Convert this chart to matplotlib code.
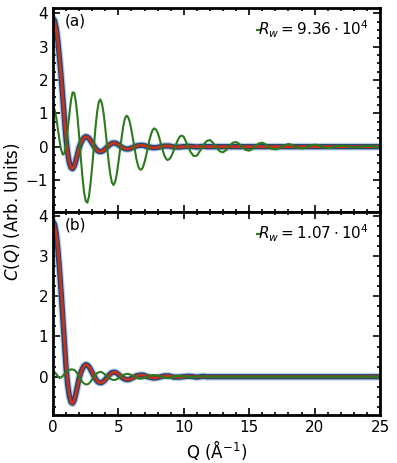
import matplotlib
matplotlib.use("Agg")
import matplotlib.pyplot as plt
from matplotlib.lines import Line2D
from matplotlib.ticker import MultipleLocator, AutoMinorLocator

# ==========================================
# Data
# ==========================================

# fine sampling up to Q = 10, coarser tail to Q = 25
q_fine = [i * 0.125 for i in range(81)]
q_tail = [10.25 + i * 0.25 for i in range(60)]
q = q_fine + q_tail

# measured C(Q), same curve in both panels
c_data = [
    3.85, 3.78, 3.55, 3.15, 2.65, 2.08, 1.45, 0.82,
    0.22, -0.20, -0.48, -0.63, -0.66, -0.58, -0.42, -0.22,
    -0.03, 0.10, 0.20, 0.27, 0.30, 0.29, 0.25, 0.18,
    0.10, 0.02, -0.05, -0.11, -0.14, -0.15, -0.14, -0.11,
    -0.07, -0.02, 0.03, 0.07, 0.10, 0.11, 0.11, 0.09,
    0.06, 0.02, -0.01, -0.04, -0.06, -0.07, -0.07, -0.06,
    -0.04, -0.02, 0.00, 0.02, 0.03, 0.04, 0.04, 0.04,
    0.03, 0.01, 0.00, -0.01, -0.02, -0.03, -0.03, -0.03,
    -0.02, -0.01, 0.00, 0.01, 0.02, 0.02, 0.02, 0.02,
    0.01, 0.00, -0.01, -0.01, -0.01, -0.01, -0.01, 0.00,
    0.00,
    0.01, 0.01, 0.00, -0.01, 0.00, 0.01, 0.00, 0.00, 0.00, 0.00, 0.00, 0.00,
    0.00, 0.00, 0.00, 0.00, 0.00, 0.00, 0.00, 0.00, 0.00, 0.00, 0.00, 0.00,
    0.00, 0.00, 0.00, 0.00, 0.00, 0.00, 0.00, 0.00, 0.00, 0.00, 0.00, 0.00,
    0.00, 0.00, 0.00, 0.00, 0.00, 0.00, 0.00, 0.00, 0.00, 0.00, 0.00, 0.00,
    0.00, 0.00, 0.00, 0.00, 0.00, 0.00, 0.00, 0.00, 0.00, 0.00, 0.00, 0.00,
]

# fit, panel (a)
fit_a = [
    3.80, 3.75, 3.54, 3.15, 2.65, 2.08, 1.45, 0.82,
    0.22, -0.20, -0.48, -0.63, -0.66, -0.58, -0.42, -0.22,
    -0.03, 0.10, 0.20, 0.27, 0.30, 0.29, 0.25, 0.18,
    0.10, 0.02, -0.05, -0.11, -0.14, -0.15, -0.14, -0.11,
    -0.07, -0.02, 0.03, 0.07, 0.10, 0.11, 0.11, 0.09,
    0.06, 0.02, -0.01, -0.04, -0.06, -0.07, -0.07, -0.06,
    -0.04, -0.02, 0.00, 0.02, 0.03, 0.04, 0.04, 0.04,
    0.03, 0.01, 0.00, -0.01, -0.02, -0.03, -0.03, -0.03,
    -0.02, -0.01, 0.00, 0.01, 0.02, 0.02, 0.02, 0.02,
    0.01, 0.00, -0.01, -0.01, -0.01, -0.01, -0.01, 0.00,
    0.00,
    0.00, 0.01, 0.00, 0.00, 0.00, 0.00, 0.00, 0.00, 0.00, 0.00, 0.00, 0.00,
    0.00, 0.00, 0.00, 0.00, 0.00, 0.00, 0.00, 0.00, 0.00, 0.00, 0.00, 0.00,
    0.00, 0.00, 0.00, 0.00, 0.00, 0.00, 0.00, 0.00, 0.00, 0.00, 0.00, 0.00,
    0.00, 0.00, 0.00, 0.00, 0.00, 0.00, 0.00, 0.00, 0.00, 0.00, 0.00, 0.00,
    0.00, 0.00, 0.00, 0.00, 0.00, 0.00, 0.00, 0.00, 0.00, 0.00, 0.00, 0.00,
]

# second curve, panel (a)
diff_a = [
    1.20, 1.11, 0.87, 0.53, 0.18, -0.10, -0.24, -0.19,
    0.09, 0.53, 1.00, 1.40, 1.63, 1.61, 1.35, 0.88,
    0.31, -0.33, -0.90, -1.37, -1.63, -1.68, -1.49, -1.08,
    -0.58, 0.02, 0.58, 1.05, 1.34, 1.42, 1.28, 0.98,
    0.55, 0.06, -0.43, -0.82, -1.07, -1.15, -1.06, -0.82,
    -0.48, -0.09, 0.29, 0.62, 0.85, 0.93, 0.88, 0.73,
    0.49, 0.21, -0.08, -0.36, -0.57, -0.68, -0.69, -0.62,
    -0.46, -0.26, -0.03, 0.20, 0.38, 0.51, 0.55, 0.51,
    0.42, 0.27, 0.08, -0.09, -0.25, -0.35, -0.40, -0.38,
    -0.32, -0.22, -0.09, 0.04, 0.16, 0.26, 0.32, 0.33,
    0.29,
    0.08, -0.15, -0.28, -0.27, -0.12, 0.05, 0.17, 0.20, 0.11, -0.03, -0.14, -0.17,
    -0.10, 0.03, 0.12, 0.14, 0.08, -0.03, -0.10, -0.12, -0.07, 0.03, 0.10, 0.12,
    0.07, -0.02, -0.07, -0.08, -0.06, 0.00, 0.05, 0.08, 0.06, 0.01, -0.04, -0.05,
    -0.04, 0.00, 0.04, 0.06, 0.05, 0.01, -0.02, -0.04, -0.04, -0.01, 0.02, 0.03,
    0.03, 0.01, -0.01, -0.02, -0.02, -0.01, 0.01, 0.02, 0.02, 0.01, 0.00, -0.01,
]

# fit, panel (b)
fit_b = [
    3.80, 3.74, 3.55, 3.20, 2.72, 2.15, 1.55, 0.92,
    0.32, -0.15, -0.45, -0.62, -0.67, -0.60, -0.44, -0.24,
    -0.05, 0.09, 0.19, 0.27, 0.30, 0.29, 0.25, 0.19,
    0.11, 0.03, -0.04, -0.10, -0.14, -0.15, -0.14, -0.12,
    -0.08, -0.03, 0.02, 0.06, 0.09, 0.11, 0.11, 0.10,
    0.07, 0.03, 0.00, -0.03, -0.05, -0.07, -0.07, -0.06,
    -0.05, -0.03, -0.01, 0.01, 0.03, 0.04, 0.04, 0.04,
    0.03, 0.02, 0.01, -0.01, -0.02, -0.02, -0.03, -0.03,
    -0.02, -0.01, 0.00, 0.01, 0.01, 0.02, 0.02, 0.02,
    0.01, 0.01, 0.00, -0.01, -0.01, -0.01, -0.01, -0.01,
    0.00,
    0.01, 0.00, 0.00, 0.00, 0.00, 0.00, 0.00, 0.00, 0.00, 0.00, 0.00, 0.00,
    0.00, 0.00, 0.00, 0.00, 0.00, 0.00, 0.00, 0.00, 0.00, 0.00, 0.00, 0.00,
    0.00, 0.00, 0.00, 0.00, 0.00, 0.00, 0.00, 0.00, 0.00, 0.00, 0.00, 0.00,
    0.00, 0.00, 0.00, 0.00, 0.00, 0.00, 0.00, 0.00, 0.00, 0.00, 0.00, 0.00,
    0.00, 0.00, 0.00, 0.00, 0.00, 0.00, 0.00, 0.00, 0.00, 0.00, 0.00, 0.00,
]

# second curve, panel (b)
diff_b = [
    0.12, 0.11, 0.07, 0.01, -0.03, -0.02, 0.02, 0.07,
    0.12, 0.15, 0.17, 0.18, 0.18, 0.17, 0.13, 0.07,
    0.00, -0.07, -0.13, -0.17, -0.19, -0.19, -0.17, -0.12,
    -0.06, 0.00, 0.05, 0.09, 0.11, 0.12, 0.11, 0.08,
    0.05, 0.01, -0.02, -0.05, -0.07, -0.08, -0.08, -0.06,
    -0.04, -0.01, 0.02, 0.04, 0.06, 0.07, 0.07, 0.06,
    0.04, 0.02, 0.00, -0.02, -0.04, -0.05, -0.05, -0.04,
    -0.03, -0.01, 0.01, 0.02, 0.03, 0.04, 0.04, 0.04,
    0.03, 0.01, 0.00, -0.01, -0.02, -0.03, -0.03, -0.03,
    -0.02, -0.01, 0.00, 0.01, 0.02, 0.02, 0.02, 0.02,
    0.01,
    0.00, -0.01, -0.01, 0.00, 0.01, 0.01, 0.00, 0.00, 0.00, 0.00, 0.00, 0.00,
    0.00, 0.00, 0.00, 0.00, 0.00, 0.00, 0.00, 0.00, 0.00, 0.00, 0.00, 0.00,
    0.00, 0.00, 0.00, 0.00, 0.00, 0.00, 0.00, 0.00, 0.00, 0.00, 0.00, 0.00,
    0.00, 0.00, 0.00, 0.00, 0.00, 0.00, 0.00, 0.00, 0.00, 0.00, 0.00, 0.00,
    0.00, 0.00, 0.00, 0.00, 0.00, 0.00, 0.00, 0.00, 0.00, 0.00, 0.00, 0.00,
]

panel_labels = ["(a)", "(b)"]
rw_labels = [r"$R_w = 9.36 \cdot 10^4$", r"$R_w = 1.07 \cdot 10^4$"]
ylims = [(-1.96, 4.16), (-0.95, 4.09)]

# ==========================================
# Figure
# ==========================================

BLUE = "#1f4577"
HALO = "#9dbbdb"
RED = "#c8321a"
GREEN = "#2b7a1b"

fig = plt.figure(figsize=(3.97, 4.63), dpi=100)
ax_a = fig.add_axes([0.1335, 0.5421, 0.8237, 0.4406])
ax_b = fig.add_axes([0.1335, 0.1037, 0.8237, 0.4384])

for ax, fit, diff, plab, rw, yl in zip(
    [ax_a, ax_b], [fit_a, fit_b], [diff_a, diff_b], panel_labels, rw_labels, ylims
):
    ax.plot(q, c_data, color=HALO, lw=5.5, alpha=0.7)
    ax.plot(q, c_data, color=BLUE, lw=3.8)
    ax.plot(q, fit, color=RED, lw=2.0)
    ax.plot(q, diff, color=GREEN, lw=1.5)

    ax.set_xlim(0, 25)
    ax.set_ylim(*yl)
    ax.xaxis.set_major_locator(MultipleLocator(5))
    ax.xaxis.set_minor_locator(AutoMinorLocator(5))
    ax.yaxis.set_major_locator(MultipleLocator(1))
    ax.yaxis.set_minor_locator(AutoMinorLocator(4))
    ax.tick_params(which="both", direction="in", top=True, right=True,
                   width=1.2, labelsize=11)
    ax.tick_params(which="major", length=5)
    ax.tick_params(which="minor", length=2.5)
    for s in ax.spines.values():
        s.set_linewidth(2)

    ax.text(0.035, 0.975, plab, transform=ax.transAxes, fontsize=11,
            ha="left", va="top")

    handle = Line2D([], [], color=GREEN, lw=1.5)
    ax.legend([handle], [rw], loc="upper right", frameon=False,
              handlelength=0.3, handletextpad=-0.2, fontsize=11,
              borderaxespad=0.3)

ax_a.tick_params(labelbottom=False)
ax_b.set_xlabel(r"Q ($\mathrm{\AA}^{-1}$)", fontsize=12, labelpad=2)
fig.text(0.03, 0.542, r"$C(Q)$ (Arb. Units)", rotation=90, fontsize=12,
         ha="center", va="center")

fig.savefig("out.png", dpi=100)
